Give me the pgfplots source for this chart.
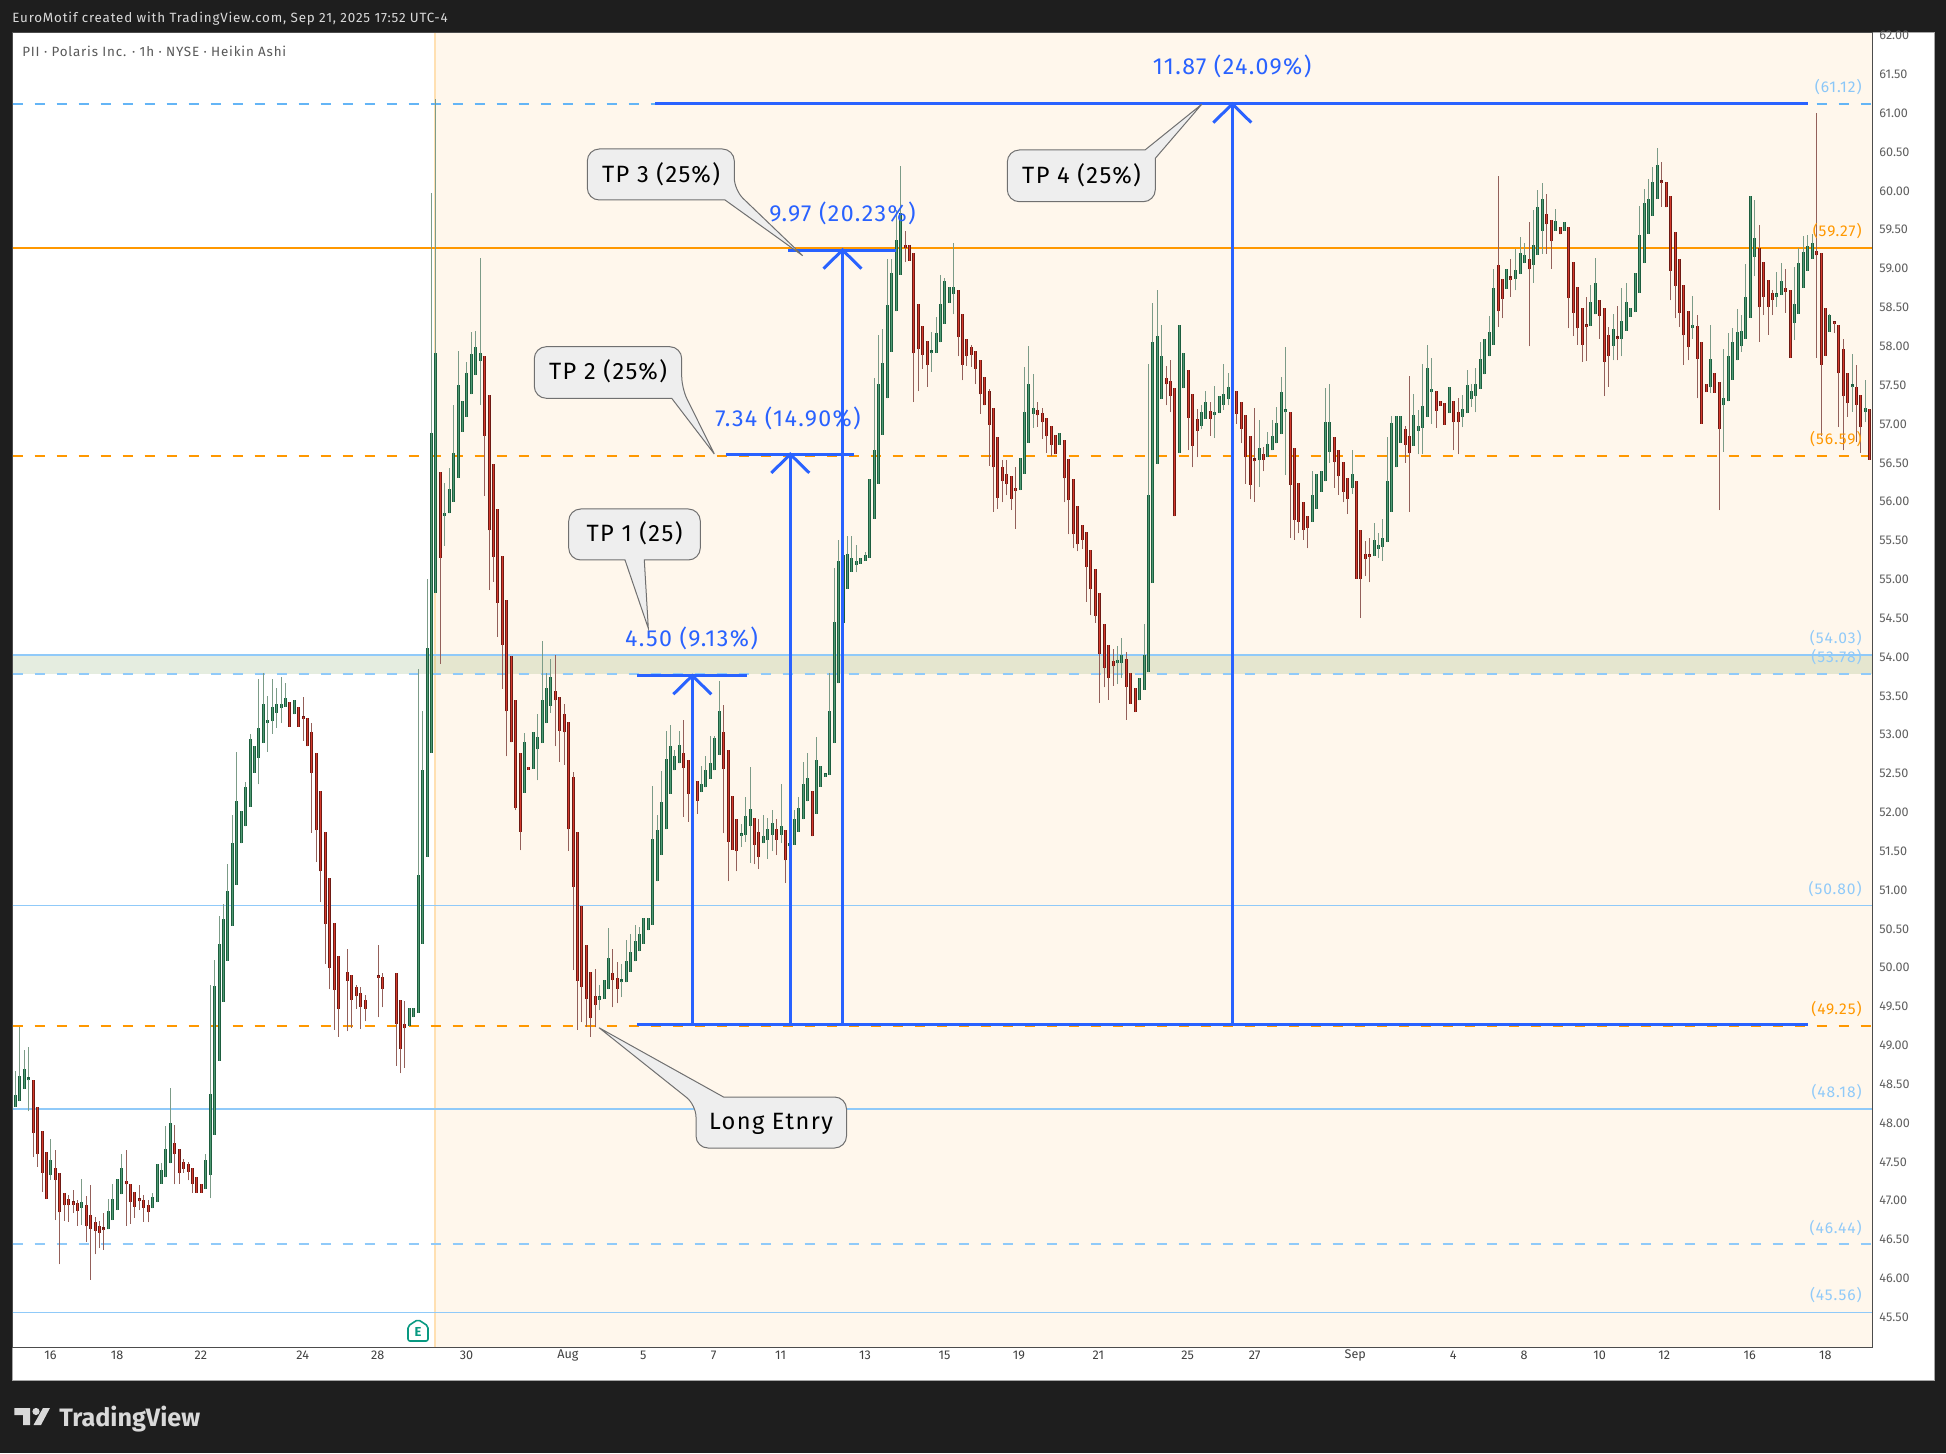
\documentclass[border=0pt]{standalone}
\usepackage{fontspec}
\setmainfont{Fira Sans}
\newfontfamily\wide[LetterSpace=6]{Fira Sans}
\usepackage{pgfplots}
\usepackage{pgfplotstable}
\pgfplotsset{compat=1.18}
\definecolor{bgd}{HTML}{1E1E1E}
\definecolor{cream}{HTML}{FFF7EC}
\definecolor{vline}{HTML}{FFE0B2}
\definecolor{org}{HTML}{FF9800}
\definecolor{lb}{HTML}{90CAF9}
\definecolor{lbd}{HTML}{64B5F6}
\definecolor{blu}{HTML}{2962FF}
\definecolor{gedge}{HTML}{1D5E3F}
\definecolor{gfill}{HTML}{4F9A73}
\definecolor{redge}{HTML}{6E1A14}
\definecolor{rfill}{HTML}{D43A2C}
\definecolor{gw}{HTML}{7C9C88}
\definecolor{rw}{HTML}{94605A}
\definecolor{tk}{HTML}{5F5F5F}
\definecolor{boxf}{HTML}{EEEEEE}
\definecolor{boxd}{HTML}{707070}
\definecolor{teal}{HTML}{089981}
\definecolor{zone}{HTML}{558B2F}
% columns: x position on the chart, open, high, low, close
\pgfplotstableread{
x o h l c
15.3 48.21 48.67 48.21 48.36
19.3 48.28 49.24 48.28 48.60
24.3 48.44 48.94 48.44 48.69
28.3 48.55 48.98 48.15 48.57
50.3 47.33 47.79 47.27 47.52
81.3 46.91 47.28 46.69 46.98
108.3 46.63 47.02 46.63 46.87
112.3 46.75 47.22 46.75 47.02
117.3 46.88 47.28 46.88 47.28
121.3 47.08 47.60 47.08 47.42
152.3 46.90 47.10 46.90 47.05
157.3 46.98 47.47 46.98 47.47
161.3 47.22 47.48 47.22 47.39
165.3 47.30 47.96 47.30 47.66
170.3 47.48 48.45 47.48 48.00
205.3 47.15 47.60 47.15 47.52
210.3 47.33 49.78 47.03 48.37
214.3 47.85 50.10 47.85 49.77
219.3 48.80 50.67 48.80 50.30
223.3 49.56 50.82 49.56 50.63
227.3 50.09 51.33 50.09 50.99
232.3 50.54 51.97 50.54 51.60
236.3 51.07 52.78 51.07 52.14
241.3 51.60 52.02 51.60 52.02
245.3 51.82 52.39 51.82 52.33
250.3 52.07 53.01 52.07 52.95
254.3 52.51 52.86 52.51 52.86
258.3 52.70 53.72 52.36 53.08
263.3 52.89 53.80 52.89 53.40
267.3 53.15 53.50 52.78 53.19
272.3 53.17 53.72 53.01 53.36
276.3 53.28 53.60 53.09 53.40
281.3 53.34 53.74 53.15 53.40
285.3 53.36 53.66 53.36 53.47
294.3 53.26 53.45 53.26 53.45
409.3 49.25 49.48 49.25 49.48
413.3 49.36 49.48 49.36 49.48
418.3 49.42 53.85 49.42 51.19
422.3 50.31 53.30 50.31 52.55
427.3 51.43 55.00 51.43 54.12
431.3 52.77 59.98 52.77 56.88
435.3 54.83 61.18 54.83 57.91
444.3 55.82 56.24 55.43 55.86
449.3 55.85 56.43 55.85 56.16
453.3 56.00 57.24 56.00 56.63
458.3 56.31 57.94 56.31 57.50
462.3 56.90 57.29 56.90 57.29
466.3 57.09 57.80 57.09 57.66
471.3 57.38 58.18 57.38 57.90
475.3 57.63 58.20 57.63 57.99
480.3 57.81 59.14 57.24 57.92
524.3 52.25 53.02 52.25 52.91
533.3 52.56 53.04 52.56 53.04
537.3 52.81 53.27 52.41 52.97
542.3 52.89 54.21 52.89 53.44
546.3 53.15 53.80 53.15 53.60
550.3 53.37 53.97 53.28 53.74
599.3 49.59 49.78 49.45 49.62
604.3 49.60 49.84 49.60 49.84
608.3 49.72 50.51 49.72 50.13
621.3 49.81 50.05 49.62 49.83
626.3 49.81 50.36 49.81 50.08
630.3 49.95 50.43 49.95 50.20
635.3 50.08 50.55 50.08 50.34
639.3 50.21 50.53 50.21 50.43
643.3 50.31 50.64 50.31 50.64
648.3 50.48 50.64 50.48 50.64
652.3 50.55 52.34 50.55 51.66
657.3 51.11 51.97 51.11 51.77
661.3 51.45 52.53 51.45 52.13
666.3 51.78 53.05 51.78 52.69
670.3 52.24 53.12 52.24 52.86
674.3 52.54 52.80 52.54 52.72
679.3 52.63 53.05 52.63 52.87
701.3 52.26 52.60 52.26 52.37
705.3 52.32 52.72 52.32 52.54
710.3 52.43 52.98 52.43 52.63
714.3 52.54 52.98 52.54 52.96
719.3 52.74 53.69 52.74 53.31
741.3 51.70 51.85 51.56 51.72
745.3 51.71 52.20 51.62 51.95
750.3 51.83 52.59 51.35 52.04
763.3 51.60 51.96 51.60 51.69
767.3 51.65 51.93 51.40 51.79
772.3 51.71 52.03 51.50 51.86
781.3 51.71 52.36 51.60 51.82
789.3 51.57 51.96 51.13 51.60
794.3 51.58 52.03 51.58 51.92
798.3 51.75 52.20 51.75 52.05
803.3 51.91 52.65 51.91 52.37
807.3 52.14 52.76 52.14 52.44
816.3 51.98 52.97 51.98 52.67
820.3 52.33 52.60 52.33 52.60
825.3 52.46 52.49 52.46 52.49
829.3 52.48 53.80 52.48 53.30
834.3 52.89 55.14 52.89 54.45
838.3 53.66 55.50 53.66 55.23
843.3 54.44 55.50 54.44 55.31
847.3 54.88 55.56 54.88 55.32
851.3 55.10 55.56 55.10 55.28
856.3 55.19 55.44 55.09 55.23
860.3 55.20 55.28 55.20 55.28
865.3 55.24 55.35 55.24 55.31
869.3 55.28 56.29 55.28 56.29
874.3 55.78 57.59 55.78 56.66
878.3 56.23 58.15 56.23 57.51
882.3 56.86 58.22 56.86 57.79
887.3 57.33 59.12 57.33 58.53
891.3 57.93 59.12 57.93 58.95
896.3 58.45 59.75 58.45 59.37
900.3 58.92 60.32 58.92 59.72
931.3 57.91 58.18 57.67 57.93
936.3 57.92 58.38 57.92 58.17
940.3 58.05 58.92 58.05 58.55
944.3 58.29 58.88 58.29 58.84
949.3 58.56 58.76 58.56 58.76
953.3 58.67 59.33 58.41 58.76
1020.3 56.15 56.56 56.15 56.56
1024.3 56.36 57.74 56.36 57.15
1028.3 56.76 58.00 56.76 57.51
1033.3 57.13 57.64 56.95 57.21
1059.3 56.73 56.88 56.73 56.88
1117.3 53.92 54.14 53.65 53.96
1121.3 53.92 54.25 53.73 54.02
1139.3 53.44 53.73 53.44 53.73
1144.3 53.58 54.42 53.58 54.03
1148.3 53.81 57.77 53.81 56.08
1152.3 54.95 58.56 54.95 58.05
1157.3 56.49 58.72 56.49 58.13
1161.3 57.32 58.28 57.32 57.87
1179.3 56.63 58.28 56.63 58.28
1183.3 57.46 57.91 57.46 57.91
1201.3 56.98 57.24 56.93 57.15
1205.3 57.07 57.42 57.07 57.28
1214.3 57.12 57.49 56.82 57.15
1219.3 57.14 57.36 57.14 57.36
1223.3 57.25 57.77 57.18 57.38
1228.3 57.32 57.66 57.24 57.47
1232.3 57.39 57.72 57.23 57.45
1259.3 56.53 57.05 56.19 56.69
1267.3 56.57 56.90 56.57 56.74
1272.3 56.66 57.05 56.66 56.85
1276.3 56.75 57.22 56.75 57.01
1281.3 56.87 57.60 56.87 57.41
1285.3 57.15 57.99 56.34 57.18
1312.3 55.74 56.39 55.74 56.09
1316.3 55.91 56.35 55.91 56.35
1321.3 56.13 56.39 56.13 56.39
1325.3 56.26 57.46 56.26 57.03
1329.3 56.64 57.51 56.50 57.02
1352.3 56.18 56.66 56.10 56.35
1374.3 55.30 55.72 55.30 55.51
1378.3 55.39 55.60 55.28 55.44
1382.3 55.42 55.78 55.24 55.53
1387.3 55.48 56.83 55.48 56.27
1391.3 55.87 57.10 55.87 57.01
1396.3 56.44 57.10 56.44 57.10
1400.3 56.76 57.10 56.76 57.10
1413.3 56.72 57.39 56.72 57.11
1418.3 56.91 57.18 56.61 56.98
1422.3 56.95 57.77 56.61 57.23
1427.3 57.09 58.02 57.09 57.72
1431.3 57.41 57.85 57.00 57.45
1449.3 57.14 57.47 57.14 57.47
1462.3 57.09 57.37 56.96 57.19
1467.3 57.14 57.70 57.14 57.50
1471.3 57.32 57.52 57.22 57.43
1475.3 57.36 57.72 57.15 57.52
1480.3 57.45 58.05 57.45 57.84
1484.3 57.64 58.09 57.64 58.09
1489.3 57.87 58.39 57.87 58.19
1493.3 58.02 59.00 58.02 58.75
1506.3 58.74 59.00 58.74 59.00
1515.3 58.87 59.25 58.72 58.98
1520.3 58.93 59.41 58.93 59.20
1524.3 59.07 59.33 59.07 59.18
1533.3 59.05 59.75 58.82 59.31
1537.3 59.18 60.01 59.18 59.80
1542.3 59.49 60.10 59.19 59.90
1555.3 59.49 59.77 59.49 59.61
1564.3 59.49 59.60 59.49 59.60
1590.3 58.26 58.79 58.26 58.57
1595.3 58.41 59.14 58.41 58.81
1613.3 58.01 58.42 57.82 58.22
1621.3 58.10 58.75 57.87 58.32
1626.3 58.20 58.82 58.20 58.57
1630.3 58.38 58.49 58.38 58.49
1635.3 58.44 58.95 58.44 58.95
1639.3 58.69 59.81 58.69 59.43
1644.3 59.07 60.03 59.07 59.85
1648.3 59.45 60.15 59.45 59.90
1652.3 59.68 60.31 59.68 60.12
1657.3 59.90 60.55 59.90 60.34
1692.3 58.23 58.65 58.10 58.28
1710.3 57.47 58.28 57.40 57.84
1723.3 57.24 57.96 56.64 57.33
1728.3 57.29 58.17 57.29 57.87
1732.3 57.57 58.23 57.57 58.06
1737.3 57.82 58.48 57.82 58.19
1741.3 58.00 58.40 57.93 58.20
1745.3 58.10 59.06 58.10 58.64
1750.3 58.37 59.93 58.37 59.93
1754.3 59.15 59.88 58.90 59.39
1776.3 58.64 58.96 58.51 58.67
1781.3 58.66 59.07 58.66 58.84
1794.3 58.30 59.02 58.08 58.55
1798.3 58.42 59.26 58.42 59.07
1803.3 58.75 59.42 58.75 59.21
1807.3 58.97 59.43 58.97 59.29
1812.3 59.13 59.45 59.13 59.33
1829.3 58.19 58.42 58.19 58.40
1852.3 57.47 57.90 57.16 57.49
1865.3 57.16 57.56 57.02 57.20
}\upbars
\pgfplotstableread{
x o h l c
33.3 48.56 48.56 47.56 47.87
37.3 48.21 48.21 47.44 47.60
42.3 47.90 47.90 47.11 47.36
46.3 47.63 47.63 47.02 47.02
55.3 47.42 47.65 46.75 47.27
59.3 47.35 47.35 46.18 46.85
64.3 47.10 47.10 46.74 46.94
68.3 47.02 47.07 46.73 46.94
73.3 46.98 47.14 46.84 46.95
77.3 46.97 47.01 46.68 46.87
86.3 46.94 47.06 46.47 46.67
90.3 46.81 47.20 45.98 46.63
95.3 46.72 46.79 46.31 46.61
99.3 46.67 46.74 46.39 46.59
103.3 46.64 46.84 46.37 46.62
126.3 47.25 47.65 46.68 47.21
130.3 47.22 47.22 46.70 46.98
134.3 47.11 47.11 46.78 46.92
139.3 47.02 47.20 46.88 46.99
143.3 47.01 47.07 46.73 46.91
148.3 46.95 47.01 46.72 46.85
174.3 47.74 47.97 47.21 47.60
179.3 47.66 47.66 47.22 47.35
183.3 47.50 47.54 47.36 47.41
188.3 47.47 47.50 47.26 47.37
192.3 47.42 47.42 47.10 47.22
196.3 47.31 47.31 47.10 47.10
201.3 47.21 47.21 47.10 47.10
289.3 53.42 53.42 53.10 53.10
298.3 53.35 53.35 53.10 53.10
303.3 53.23 53.48 52.92 53.20
307.3 53.21 53.21 52.85 52.85
311.3 53.03 53.15 51.74 52.51
316.3 52.77 52.77 51.36 51.77
320.3 52.27 52.27 50.84 51.24
325.3 51.75 51.75 50.05 50.56
329.3 51.15 51.15 49.72 50.00
334.3 50.58 50.58 49.20 49.71
338.3 50.15 50.15 49.11 49.47
347.3 49.95 50.24 49.18 49.83
351.3 49.90 49.90 49.22 49.59
356.3 49.75 49.78 49.47 49.63
360.3 49.68 49.75 49.21 49.50
365.3 49.59 49.65 49.31 49.47
378.3 49.89 50.29 49.36 49.87
382.3 49.88 49.93 49.49 49.73
396.3 49.93 49.93 48.74 49.27
400.3 49.59 49.59 48.64 48.95
404.3 49.27 49.57 48.71 49.22
440.3 56.38 56.38 53.91 55.28
484.3 57.87 57.87 56.07 56.85
489.3 57.37 57.37 54.86 55.63
493.3 56.49 56.49 54.97 55.29
497.3 55.90 55.90 54.26 54.70
502.3 55.30 55.30 53.59 54.16
506.3 54.73 54.73 52.72 53.30
511.3 54.01 54.01 52.90 52.90
515.3 53.45 53.45 52.03 52.06
520.3 52.76 52.76 51.51 51.75
528.3 52.58 52.58 52.55 52.55
555.3 53.56 54.03 52.85 53.44
559.3 53.49 53.49 52.65 53.05
564.3 53.27 53.40 52.61 53.03
568.3 53.16 53.16 51.50 51.78
573.3 52.46 52.52 49.97 51.04
577.3 51.75 51.75 49.20 49.83
581.3 50.80 50.80 49.30 49.75
586.3 50.29 50.29 49.24 49.60
590.3 49.94 49.94 49.11 49.35
595.3 49.64 49.98 49.23 49.52
612.3 49.93 50.24 49.49 49.84
617.3 49.87 50.07 49.54 49.73
683.3 52.76 53.19 51.94 52.57
688.3 52.67 52.67 51.88 52.24
692.3 52.45 52.45 52.07 52.33
697.3 52.40 52.40 51.98 52.15
723.3 53.03 53.38 51.73 52.56
728.3 52.80 52.80 51.11 51.62
732.3 52.21 52.21 51.52 51.52
736.3 51.92 51.92 51.24 51.50
754.3 51.93 51.93 51.33 51.58
758.3 51.75 51.91 51.27 51.43
776.3 51.78 51.91 51.45 51.65
785.3 51.77 51.77 51.09 51.38
812.3 52.28 52.28 51.69 51.69
905.3 59.31 59.48 59.08 59.27
909.3 59.30 59.30 59.10 59.10
913.3 59.20 59.20 57.28 57.91
918.3 58.55 58.55 57.42 57.96
922.3 58.26 58.26 57.71 57.89
927.3 58.07 58.07 57.48 57.76
958.3 58.72 58.72 57.87 58.12
962.3 58.42 58.42 57.56 57.76
966.3 58.09 58.09 57.75 57.87
971.3 57.99 58.02 57.74 57.89
975.3 57.94 57.94 57.51 57.71
980.3 57.83 57.83 57.13 57.38
984.3 57.60 57.60 57.24 57.24
989.3 57.42 57.45 56.46 56.99
993.3 57.21 57.21 55.87 56.44
997.3 56.83 56.83 55.91 56.05
1002.3 56.44 56.54 55.99 56.26
1006.3 56.35 56.54 56.08 56.23
1011.3 56.33 56.33 55.89 56.04
1015.3 56.18 56.44 55.65 56.14
1037.3 57.18 57.28 56.96 57.11
1042.3 57.14 57.20 56.81 57.02
1046.3 57.08 57.08 56.63 56.84
1051.3 56.97 56.97 56.59 56.73
1055.3 56.86 56.86 56.61 56.61
1064.3 56.80 56.80 55.99 56.30
1068.3 56.55 56.55 55.58 56.02
1073.3 56.29 56.29 55.40 55.58
1077.3 55.94 55.94 55.36 55.45
1082.3 55.70 55.70 55.39 55.51
1086.3 55.61 55.61 54.71 55.16
1090.3 55.38 55.38 54.54 54.87
1095.3 55.13 55.13 54.44 54.53
1099.3 54.82 54.82 53.41 54.04
1104.3 54.43 54.43 53.61 53.86
1108.3 54.15 54.15 53.45 53.73
1113.3 53.95 54.10 53.63 53.88
1126.3 53.97 54.06 53.19 53.62
1130.3 53.80 53.80 53.40 53.40
1135.3 53.60 53.60 53.29 53.29
1166.3 57.59 57.75 57.24 57.51
1170.3 57.55 57.83 57.15 57.36
1174.3 57.46 57.46 55.81 55.81
1188.3 57.69 57.69 56.66 57.08
1192.3 57.38 57.38 56.44 56.72
1197.3 57.06 57.19 56.57 56.91
1210.3 57.17 57.28 56.85 57.07
1236.3 57.42 57.42 57.00 57.13
1241.3 57.28 57.28 56.75 56.94
1245.3 57.11 57.11 56.23 56.57
1250.3 56.84 56.84 56.03 56.22
1254.3 56.54 57.20 56.00 56.52
1263.3 56.61 56.70 56.39 56.54
1290.3 57.16 57.16 55.53 56.22
1294.3 56.69 56.69 55.51 55.77
1298.3 56.24 56.24 55.59 55.74
1303.3 55.99 55.99 55.51 55.64
1307.3 55.81 55.81 55.40 55.66
1334.3 56.83 56.83 56.18 56.51
1338.3 56.67 56.67 56.09 56.33
1343.3 56.51 56.51 55.99 56.13
1347.3 56.31 56.31 55.84 56.04
1356.3 56.27 56.27 55.01 55.01
1360.3 55.64 55.64 54.50 55.01
1365.3 55.32 55.49 55.04 55.26
1369.3 55.31 55.53 54.96 55.29
1405.3 56.93 56.98 56.50 56.73
1409.3 56.84 57.62 55.87 56.62
1436.3 57.42 57.42 56.95 57.17
1440.3 57.30 57.30 57.23 57.23
1444.3 57.27 57.27 56.99 56.99
1453.3 57.30 57.30 56.66 57.02
1458.3 57.16 57.33 56.61 57.02
1498.3 59.05 60.19 58.25 58.45
1502.3 58.87 58.87 58.36 58.61
1510.3 58.88 59.13 58.64 58.86
1529.3 59.12 59.60 58.00 58.99
1546.3 59.70 59.96 59.19 59.57
1551.3 59.63 59.63 59.00 59.35
1560.3 59.54 59.54 59.44 59.44
1568.3 59.54 59.54 58.23 58.62
1573.3 59.09 59.09 58.13 58.43
1577.3 58.76 58.76 58.02 58.23
1582.3 58.49 58.49 57.80 58.02
1586.3 58.27 58.64 57.81 58.25
1599.3 58.60 58.60 58.10 58.39
1604.3 58.49 58.49 57.36 57.80
1608.3 58.14 58.25 57.48 57.88
1617.3 58.11 58.52 57.82 58.09
1661.3 60.12 60.37 59.80 60.10
1666.3 60.11 60.11 59.79 59.79
1670.3 59.94 59.94 58.59 58.97
1675.3 59.47 59.47 58.36 58.78
1679.3 59.12 59.12 58.25 58.43
1683.3 58.79 58.79 57.76 58.14
1688.3 58.46 58.46 57.82 57.99
1697.3 58.26 58.40 57.33 57.84
1701.3 58.05 58.05 57.00 57.00
1706.3 57.52 57.52 57.41 57.41
1714.3 57.65 57.65 57.40 57.40
1719.3 57.54 57.54 55.89 56.94
1759.3 59.27 59.56 58.06 58.50
1763.3 59.09 59.09 58.40 58.64
1768.3 58.86 58.86 58.15 58.51
1772.3 58.69 58.72 58.40 58.60
1785.3 58.75 59.00 58.43 58.70
1790.3 58.72 58.72 57.85 57.85
1816.3 59.23 61.00 57.85 59.17
1821.3 59.20 59.20 56.84 57.76
1825.3 58.49 58.49 57.88 57.88
1834.3 58.31 58.32 58.17 58.29
1838.3 58.28 58.28 56.96 57.65
1843.3 57.97 58.10 56.66 57.36
1847.3 57.66 57.66 57.09 57.27
1856.3 57.48 57.76 56.77 57.25
1860.3 57.37 57.37 56.63 56.96
1869.3 57.19 57.19 56.54 56.54
}\downbars
\pgfplotsset{
  hl/.style={line width=0.9pt, forget plot},
  dsh/.style={dash pattern=on 5pt off 6pt},
  meas/.style={draw=blu, line width=1.5pt, forget plot},
  cand/.style 2 args={draw=none, mark=none, forget plot,
    error bars/.cd, y dir=plus, y explicit, error mark=none,
    error bar style={draw=#1, line width=#2, solid}},
}
\newcommand{\callout}[3]{% path, text position, text
  \path[fill=boxf, draw=boxd, line width=0.5pt, rounded corners=0pt] #1;
  \node[text=black, font=\wide\fontsize{11.8}{13}\selectfont, inner sep=0pt] at #2 {#3};
}
\begin{document}
\begin{tikzpicture}
\useasboundingbox (0,0) rectangle (973pt,726.5pt);
\begin{scope}[x=0.5pt, y=-0.5pt, yshift=726.5pt]
\fill[bgd] (0,0) rectangle (1946,1453);
\fill[white, draw=gray!70, line width=0.5pt] (12.5,33) rectangle (1934,1380);
\end{scope}
\begin{axis}[
  at={(6.25pt,53pt)}, anchor=south west, scale only axis,
  width=929.75pt, height=657pt,
  xmin=12.5, xmax=1872, ymin=45.116, ymax=62.034,
  clip=true,
  axis line style={draw=black!70, line width=0.5pt},
  ytick={45.5,46,...,62}, yticklabel pos=right,
  major tick length=0pt,
  yticklabel style={/pgf/number format/.cd, fixed, fixed zerofill, precision=2, assume math mode=true,
     /tikz/.cd, font=\fontsize{6.3}{7}\selectfont, text=tk, anchor=west, xshift=3.5pt, inner sep=0pt},
  xtick={50.4,117,200.9,302.7,377.7,466.5,567.9,643.3,713.6,780.6,865,944.5,1018.9,1098.4,1187.7,1254.7,1355.3,1453.3,1524,1599.7,1664.3,1749.7,1825.3},
  xticklabels={16,18,22,24,28,30,Aug,5,7,11,13,15,19,21,25,27,Sep,4,8,10,12,16,18},
  xticklabel style={font=\fontsize{6.3}{7}\selectfont, text=black!75, anchor=center, yshift=-4pt, inner sep=0pt},
]
% session background
\addplot[draw=none, fill=cream, forget plot] coordinates {(435,45.116)(1872,45.116)(1872,62.034)(435,62.034)} --cycle;
\addplot[draw=vline, line width=1pt, forget plot] coordinates {(435,45.116)(435,62.034)};
% zone 53.78 - 54.03
\addplot[draw=none, fill=zone, fill opacity=0.15, forget plot] coordinates {(12.5,53.78)(1872,53.78)(1872,54.03)(12.5,54.03)} --cycle;
% price levels
\addplot[hl, draw=lb] coordinates {(12.5,54.03)(1872,54.03)};
\addplot[hl, draw=lb, dsh] coordinates {(12.5,53.78)(1872,53.78)};
\addplot[hl, draw=lbd, dsh] coordinates {(12.5,61.12)(1872,61.12)};
\addplot[hl, draw=org] coordinates {(12.5,59.27)(1872,59.27)};
\addplot[hl, draw=org, dsh] coordinates {(12.5,56.59)(1872,56.59)};
\addplot[hl, draw=lb] coordinates {(12.5,50.80)(1872,50.80)};
\addplot[hl, draw=org, dsh] coordinates {(12.5,49.25)(1872,49.25)};
\addplot[hl, draw=lb] coordinates {(12.5,48.18)(1872,48.18)};
\addplot[hl, draw=lb, dsh] coordinates {(12.5,46.44)(1872,46.44)};
\addplot[hl, draw=lb] coordinates {(12.5,45.56)(1872,45.56)};
% wicks
\addplot[cand={gw}{0.5pt}] table[x=x, y=l, y error plus expr=\thisrow{h}-\thisrow{l}] {\upbars};
\addplot[cand={rw}{0.5pt}] table[x=x, y=l, y error plus expr=\thisrow{h}-\thisrow{l}] {\downbars};
% bodies: edge, then lighter core
\addplot[cand={gedge}{1.4pt}] table[x=x, y=o, y error plus expr={max(\thisrow{c}-\thisrow{o},0.04)}] {\upbars};
\addplot[cand={gfill}{0.5pt}] table[x=x, y=o, y error plus expr={max(\thisrow{c}-\thisrow{o},0.01)}] {\upbars};
\addplot[cand={redge}{1.4pt}] table[x=x, y=c, y error plus expr={max(\thisrow{o}-\thisrow{c},0.04)}] {\downbars};
\addplot[cand={rfill}{0.5pt}] table[x=x, y=c, y error plus expr={max(\thisrow{o}-\thisrow{c},0.01)}] {\downbars};
% measure tool
\addplot[meas] coordinates {(637.3,49.27)(1808,49.27)};
\addplot[meas] coordinates {(637.3,53.76)(746.7,53.76)};
\addplot[meas] coordinates {(692.3,49.27)(692.3,53.76)};
\addplot[meas] coordinates {(673.3,53.52)(692.3,53.76)(711.3,53.52)};
\addplot[meas] coordinates {(726,56.61)(854,56.61)};
\addplot[meas] coordinates {(790.3,49.27)(790.3,56.61)};
\addplot[meas] coordinates {(771.3,56.37)(790.3,56.61)(809.3,56.37)};
\addplot[meas] coordinates {(788,59.24)(896,59.24)};
\addplot[meas] coordinates {(842.5,49.27)(842.5,59.24)};
\addplot[meas] coordinates {(823.5,59.00)(842.5,59.24)(861.5,59.00)};
\addplot[meas] coordinates {(655.3,61.12)(1808,61.12)};
\addplot[meas] coordinates {(1232.3,49.27)(1232.3,61.12)};
\addplot[meas] coordinates {(1213.3,60.88)(1232.3,61.12)(1251.3,60.88)};
\end{axis}
\begin{scope}[x=0.5pt, y=-0.5pt, yshift=726.5pt]
% level labels
\def\rl#1#2#3{\node[anchor=east, text=#1, inner sep=0pt, font=\wide\fontsize{7.8}{9}\selectfont] at (1862,#2) {#3};}
\rl{lbd!75}{87}{(61.12)}
\rl{org}{231}{(59.27)}
\rl{org}{439}{(56.59)}
\rl{lb}{638}{(54.03)}
\rl{lb}{657}{(53.78)}
\rl{lb}{889}{(50.80)}
\rl{org}{1009}{(49.25)}
\rl{lb}{1092}{(48.18)}
\rl{lb}{1228}{(46.44)}
\rl{lb}{1295}{(45.56)}
% measure labels
\def\bl#1#2#3{\node[text=blu, inner sep=0pt, font=\wide\fontsize{11.6}{13}\selectfont] at (#1,#2) {#3};}
\bl{691.5}{638}{4.50 (9.13\%)}
\bl{788}{418}{7.34 (14.90\%)}
\bl{842.5}{213}{9.97 (20.23\%)}
\bl{1232}{66}{11.87 (24.09\%)}
% callouts
\callout{[rounded corners=6pt] (587.3,149) -- (734.3,149) -- (734.3,190) [rounded corners=0pt] -- (802.7,255.7) -- (725,200) [rounded corners=6pt] -- (587.3,200) -- cycle}{(661,174.5)}{TP 3 (25\%)}
\callout{[rounded corners=6pt] (534.3,346.7) -- (681.7,346.7) -- (681.7,388.3) [rounded corners=0pt] -- (714.3,454) -- (671.7,398.3) [rounded corners=6pt] -- (534.3,398.3) -- cycle}{(608,371.5)}{TP 2 (25\%)}
\callout{[rounded corners=6pt] (568.7,509) -- (700.3,509) -- (700.3,560) [rounded corners=0pt] -- (644.3,560) -- (648.3,628.3) -- (625,560) [rounded corners=6pt] -- (568.7,560) -- cycle}{(634.5,533.5)}{TP 1 (25)}
\callout{[rounded corners=6pt] (1007.3,150) [rounded corners=0pt] -- (1145,150) -- (1201.7,104.3) -- (1155.3,158.3) [rounded corners=6pt] -- (1155.3,201.7) -- (1007.3,201.7) -- cycle}{(1081.5,175)}{TP 4 (25\%)}
\callout{[rounded corners=6pt] (696,1105) [rounded corners=0pt] -- (599,1027.7) -- (723.5,1097) [rounded corners=6pt] -- (846.5,1097) -- (846.5,1148) -- (696,1148) -- cycle}{(771,1124)}{Long Etnry}
% earnings flag
\draw[teal, line width=0.8pt, line join=round, rounded corners=1pt] (408,1326) -- (418,1319.5) -- (428,1326) -- (428,1341) -- (408,1341) -- cycle;
\node[text=teal, inner sep=0pt, font=\fontsize{6.5}{8}\selectfont\bfseries] at (418,1332) {E};
% header and legend
\node[anchor=west, text=white!85!black, inner sep=0pt, font=\wide\fontsize{6.7}{8}\selectfont] at (12,19) {EuroMotif created with TradingView.com, Sep 21, 2025 17:52 UTC-4};
\node[anchor=west, text=black!65, inner sep=0pt, font=\wide\fontsize{6.7}{8}\selectfont] at (22,51.5) {PII · Polaris Inc. · 1h · NYSE · Heikin Ashi};
% logo
\fill[white!85!black] (14.3,1408) -- (30,1408) -- (30,1425) -- (23,1425) -- (23,1415) -- (14.3,1415) -- cycle;
\fill[white!85!black] (36,1411.5) circle[radius=3.6];
\fill[white!85!black] (43,1408) -- (50,1408) -- (41,1425) -- (33.5,1425) -- cycle;
\node[anchor=west, text=white!85!black, inner sep=0pt, font=\fontsize{12.6}{15}\selectfont\bfseries] at (59,1419) {TradingView};
\end{scope}
\end{tikzpicture}
\end{document}
